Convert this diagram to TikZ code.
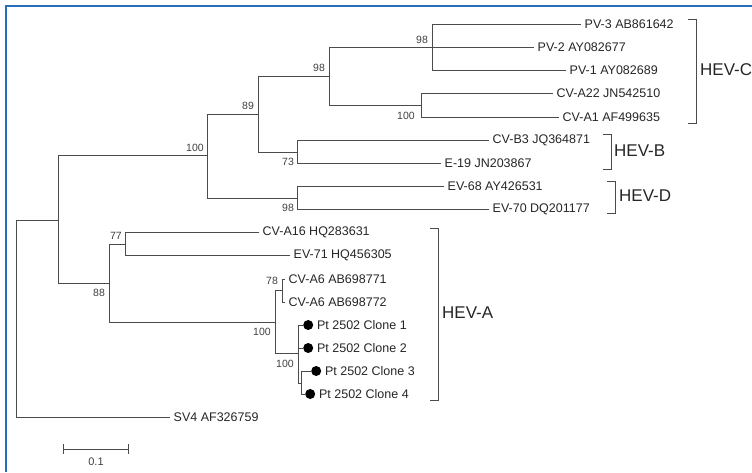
\documentclass[tikz,border=0pt]{standalone}
\usepackage{fontspec}
\setmainfont{Liberation Sans}
\usetikzlibrary{positioning}
\definecolor{frameblue}{RGB}{40,110,190}
\definecolor{treegray}{RGB}{75,75,75}

\tikzset{
  branch/.style={draw=treegray, line width=1pt},
  taxon/.style={anchor=west, inner sep=3.5pt, font=\fontsize{12.5}{13}\selectfont, text=black!85},
  boot/.style={inner sep=0pt, font=\fontsize{10.5}{11}\selectfont, text=black!75},
  clade/.style={anchor=west, inner sep=2pt, font=\fontsize{17}{19}\selectfont, text=black!85},
  clonedot/.style={circle, fill=black, inner sep=0pt, minimum size=10pt, anchor=west},
}

\begin{document}
\begin{tikzpicture}[x=1pt,y=-1pt]
	\useasboundingbox (0,0) rectangle (752,472);
	% frame
	\draw[frameblue, line width=2pt] (6,472) -- (6,6) -- (752,6);

	% root and outgroup
	\draw[branch] (170,417) -- (16,417) -- (16,220) -- (58,220);
	\node[taxon] (sv4) at (170,417) {SV4 AF326759};

	%% HEV-B/C/D
	\draw[branch] (207,155) -- (58,155) -- (58,283) -- (109,283);
	\draw[branch] (258,114) -- (207,114) -- (207,198) -- (297,198);
	\node[boot] at (195,148) {100};
	\draw[branch] (329,76) -- (258,76) -- (258,152) -- (297,152);
	\node[boot] at (248,106) {89};
	\draw[branch] (432,47) -- (329,47) -- (329,105) -- (421,105);
	\node[boot] at (319,68) {98};
	% poliovirus
	\draw[branch] (581,24) -- (432,24) -- (432,70) -- (566,70);
	\draw[branch] (432,47) -- (534,47);
	\node[boot] at (422,40) {98};
	\node[taxon] (pv3) at (581,24) {PV-3 AB861642};
	\node[taxon] (pv2) at (534,47) {PV-2 AY082677};
	\node[taxon] (pv1) at (566,70) {PV-1 AY082689};
	% coxsackie A
	\draw[branch] (553,93) -- (421,93) -- (421,117) -- (559,117);
	\node[boot] at (406,116) {100};
	\node[taxon] (cva22) at (553,93) {CV-A22 JN542510};
	\node[taxon] (cva1) at (559,117) {CV-A1 AF499635};
	% HEV-B
	\draw[branch] (489,140) -- (297,140) -- (297,163) -- (441,163);
	\node[boot] at (288,162) {73};
	\node[taxon] (cvb3) at (489,140) {CV-B3 JQ364871};
	\node[taxon] (e19) at (441,163) {E-19 JN203867};
	% HEV-D
	\draw[branch] (444,186) -- (297,186) -- (297,209) -- (489,209);
	\node[boot] at (288,208) {98};
	\node[taxon] (ev68) at (444,186) {EV-68 AY426531};
	\node[taxon] (ev70) at (489,209) {EV-70 DQ201177};

	%% HEV-A
	\draw[branch] (125,244) -- (109,244) -- (109,322) -- (275,322);
	\node[boot] at (99,293) {88};
	\draw[branch] (259,232) -- (125,232) -- (125,255) -- (290,255);
	\node[boot] at (116,236) {77};
	\node[taxon] (cva16) at (259,232) {CV-A16 HQ283631};
	\node[taxon] (ev71) at (290,255) {EV-71 HQ456305};
	\draw[branch] (282,290) -- (275,290) -- (275,353) -- (298,353);
	\node[boot] at (262,332) {100};
	\draw[branch] (285,279) -- (282,279) -- (282,302) -- (285,302);
	\node[boot] at (272,281) {78};
	\node[taxon] (cva6a) at (285,279) {CV-A6 AB698771};
	\node[taxon] (cva6b) at (285,302) {CV-A6 AB698772};
	% patient clones
	\draw[branch] (303,325) -- (298,325) -- (298,383) -- (301,383);
	\draw[branch] (298,348) -- (303,348);
	\draw[branch] (311,371) -- (301,371) -- (301,394) -- (305,394);
	\node[boot] at (285,364) {100};
	\node[clonedot] (dot1) at (303,325) {};
	\node[clonedot] (dot2) at (303,348) {};
	\node[clonedot] (dot3) at (311,371) {};
	\node[clonedot] (dot4) at (305,394) {};
	\foreach \n in {1,...,4}
		\node[taxon, right=0pt of dot\n] (clone\n) {Pt 2502 Clone \n};

	%% clade brackets
	\draw[branch] (688,19) -- (696,19) -- (696,123) -- (688,123);
	\node[clade] (hevc) at (698,70) {HEV-C};
	\draw[branch] (603,134) -- (611,134) -- (611,169) -- (603,169);
	\node[clade] (hevb) at (612,151) {HEV-B};
	\draw[branch] (607,181) -- (615,181) -- (615,213) -- (607,213);
	\node[clade] (hevd) at (617,196) {HEV-D};
	\draw[branch] (430,228) -- (438,228) -- (438,400) -- (430,400);
	\node[clade] (heva) at (440,313) {HEV-A};

	% scale bar
	\draw[branch] (63,449) -- (128,449);
	\draw[branch] (63,444) -- (63,454);
	\draw[branch] (128,444) -- (128,454);
	\node[boot, font=\fontsize{11}{12}\selectfont] (scale) at (96,462) {0.1};
\end{tikzpicture}
\end{document}
